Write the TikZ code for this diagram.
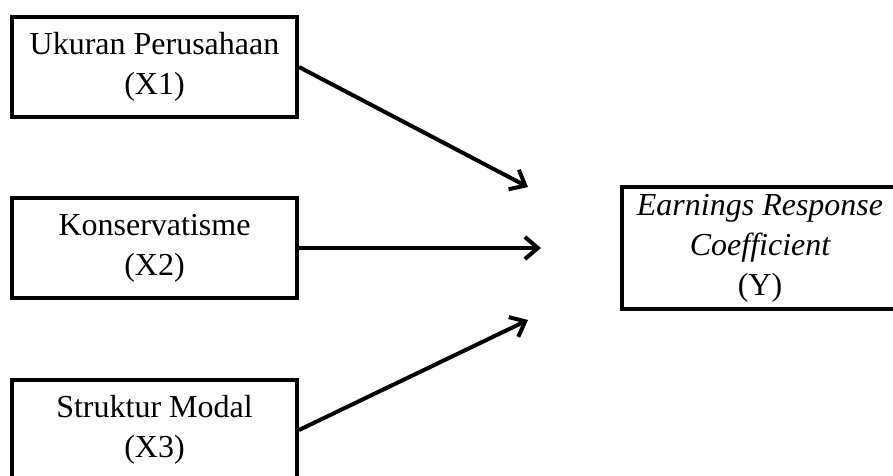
\documentclass[tikz,border=0pt]{standalone}
\usepackage{fontspec}
\setmainfont{Liberation Serif}
\usetikzlibrary{arrows.meta}
\begin{document}
\begin{tikzpicture}[x=1pt,y=-1pt,
  varbox/.style={draw=black,line width=4pt,minimum width=285pt,minimum height=100pt,
    inner sep=0pt,align=center,font=\fontsize{32}{40}\selectfont},
  link/.style={line width=4pt,-{Straight Barb[length=13pt,width=22pt,line width=4pt]}}]
\useasboundingbox (0,0) rectangle (893,475);
\clip (0,0) rectangle (893,475);
\node[varbox] (x1) at (154.5,67) {Ukuran Perusahaan\\(X1)};
\node[varbox] (x2) at (154.5,248) {Konservatisme\\(X2)};
\node[varbox] (x3) at (154.5,430) {Struktur Modal\\(X3)};
\node[varbox,minimum width=276pt,minimum height=122pt] (y) at (760,248) {\itshape Earnings Response\\\itshape Coefficient\\(Y)};
\coordinate (e1) at (528,187);
\coordinate (e2) at (541,248);
\coordinate (e3) at (528,320);
\draw[link] (x1.east) -- (e1);
\draw[link] (x2.east) -- (e2);
\draw[link] (x3.east) -- (e3);
\end{tikzpicture}
\end{document}
